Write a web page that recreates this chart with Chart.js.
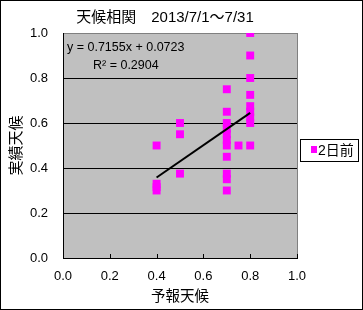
<!DOCTYPE html>
<html>
<head>
<meta charset="utf-8">
<script src="https://cdn.jsdelivr.net/npm/chart.js@4/dist/chart.umd.min.js"></script>
<style>
	html, body { margin: 0; padding: 0; background: #ffffff; }
	#chart { display: block; }
</style>
</head>
<body>
<canvas id="chart" width="363" height="310"></canvas>
<script>
// forecast (x) vs actual (y), 2 days ahead
const forecast = [0.4, 0.4, 0.4, 0.4, 0.5, 0.5, 0.5, 0.7, 0.7, 0.7, 0.7, 0.7, 0.7, 0.7, 0.7, 0.7, 0.7, 0.7, 0.75, 0.8, 0.8, 0.8, 0.8, 0.8, 0.8, 0.8, 0.8, 0.8];
const actual = [0.5, 0.33, 0.315, 0.3, 0.6, 0.55, 0.375, 0.75, 0.65, 0.6, 0.575, 0.55, 0.525, 0.5, 0.45, 0.375, 0.35, 0.3, 0.5, 1.0, 0.9, 0.8, 0.725, 0.675, 0.65, 0.625, 0.6, 0.5];
const trendX = [0.4, 0.8];
const trendY = [0.358, 0.645];

const seriesLabel = "2日前";
const chartTitle = "天候相関　2013/7/1～7/31";
const xTitle = "予報天候";
const yTitle = "実績天候";
const equationText = "y = 0.7155x + 0.0723";
const r2Text = "R² = 0.2904";

const FONT = "'Liberation Sans', 'Noto Sans CJK JP', sans-serif";
const MAGENTA = "#ff00ff";

const points = forecast.map((x, i) => ({ x: x, y: actual[i] }));
const trend = trendX.map((x, i) => ({ x: x, y: trendY[i] }));

const decorPlugin = {
	id: "decor",
	beforeDraw(chart) {
		const { ctx, chartArea: a } = chart;
		ctx.save();
		ctx.fillStyle = "#c0c0c0";
		ctx.fillRect(a.left, a.top, a.right - a.left, a.bottom - a.top);
		ctx.strokeStyle = "#808080";
		ctx.lineWidth = 1;
		ctx.strokeRect(a.left + 0.5, a.top + 0.5, a.right - a.left, a.bottom - a.top);
		ctx.restore();
	},
	afterDraw(chart) {
		const { ctx, chartArea: a } = chart;
		const xs = chart.scales.x;
		ctx.save();

		// inner tick marks on x axis
		ctx.strokeStyle = "#000000";
		ctx.lineWidth = 1;
		xs.ticks.forEach((t) => {
			const px = Math.round(xs.getPixelForValue(t.value)) + 0.5;
			ctx.beginPath();
			ctx.moveTo(px, a.bottom);
			ctx.lineTo(px, a.bottom - 4);
			ctx.stroke();
		});

		// title
		ctx.fillStyle = "#000000";
		ctx.font = "15px " + FONT;
		ctx.textAlign = "center";
		ctx.textBaseline = "middle";
		ctx.fillText(chartTitle, 165, 18);

		// regression text
		ctx.font = "12.5px " + FONT;
		ctx.textAlign = "left";
		ctx.fillText(equationText, a.left + 4, a.top + 15);
		ctx.fillText(r2Text, a.left + 30, a.top + 33);

		// legend
		const ds = chart.data.datasets.find((d) => d.label === seriesLabel);
		ctx.fillStyle = "#ffffff";
		ctx.fillRect(300, 139, 59, 22);
		ctx.strokeStyle = "#000000";
		ctx.strokeRect(300.5, 139.5, 58, 22);
		ctx.fillStyle = ds.backgroundColor;
		ctx.fillRect(311, 146, 6, 7);
		ctx.fillStyle = "#000000";
		ctx.font = "14px " + FONT;
		ctx.textBaseline = "middle";
		ctx.fillText(ds.label, 318, 151);

		// outer frame
		ctx.strokeStyle = "#000000";
		ctx.strokeRect(0.5, 0.5, chart.width - 1, chart.height - 1);
		ctx.restore();
	},
};

new Chart(document.getElementById("chart"), {
	type: "scatter",
	data: {
		datasets: [
			{
				label: "trend",
				type: "line",
				data: trend,
				borderColor: "#000000",
				borderWidth: 2,
				pointRadius: 0,
				fill: false,
				order: 0,
			},
			{
				label: seriesLabel,
				data: points,
				backgroundColor: MAGENTA,
				borderColor: MAGENTA,
				borderWidth: 0,
				pointStyle: "rect",
				pointRadius: 5.6,
				order: 1,
			},
		],
	},
	options: {
		responsive: false,
		devicePixelRatio: 1,
		animation: false,
		layout: {
			padding: { left: 0, top: 33, right: 66, bottom: 0 },
		},
		plugins: {
			legend: { display: false },
			title: { display: false },
			tooltip: { enabled: false },
		},
		scales: {
			x: {
				type: "linear",
				min: 0,
				max: 1,
				afterFit: (s) => { s.height = 52; },
				ticks: {
					stepSize: 0.2,
					padding: 11,
					color: "#000000",
					font: { family: FONT, size: 13 },
					callback: (v) => v.toFixed(1),
				},
				grid: { display: false, drawTicks: false },
				border: { display: true, color: "#000000", width: 1 },
				title: {
					display: true,
					text: xTitle,
					color: "#000000",
					font: { family: FONT, size: 14.5 },
					padding: { top: 0, bottom: 4 },
				},
			},
			y: {
				type: "linear",
				min: 0,
				max: 1,
				afterFit: (s) => { s.width = 63; },
				ticks: {
					stepSize: 0.2,
					padding: 15,
					color: "#000000",
					font: { family: FONT, size: 13 },
					callback: (v) => v.toFixed(1),
				},
				grid: {
					drawTicks: false,
					color: (c) => (c.tick && c.tick.value > 0.01 && c.tick.value < 0.99 ? "#000000" : "rgba(0,0,0,0)"),
					lineWidth: 1,
				},
				border: { display: true, color: "#000000", width: 1 },
				title: {
					display: true,
					text: yTitle,
					color: "#000000",
					font: { family: FONT, size: 15 },
					padding: { top: 8, bottom: 0 },
				},
			},
		},
	},
	plugins: [decorPlugin],
});
</script>
</body>
</html>
